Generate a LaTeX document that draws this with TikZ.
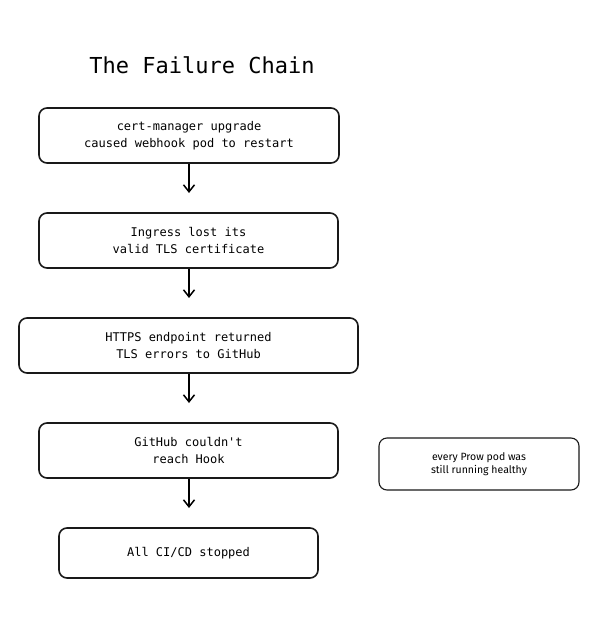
\documentclass[tikz,border=0pt]{standalone}
\usepackage{fontspec}
\setmonofont{DejaVu Sans Mono}
\newfontfamily\notefont{Fira Sans}
\usetikzlibrary{arrows.meta}
\begin{document}
\begin{tikzpicture}[x=1pt,y=-1pt,
  stepbox/.style={draw=black!90, line width=1.6pt, rounded corners=8pt, fill=white, align=center, font=\ttfamily\fontsize{12}{17}\selectfont, inner sep=0pt},
  notebox/.style={draw=black!90, line width=1.1pt, rounded corners=8pt, fill=white, align=center, font=\notefont\fontsize{10.5}{13}\selectfont, inner sep=0pt},
  flow/.style={line width=1.7pt, -{Straight Barb[length=7pt,width=11pt,line width=1.5pt]}}]
\useasboundingbox (0,0) rectangle (595,634);
\node[font=\ttfamily\fontsize{22}{24}\selectfont] (title) at (202,65) {The Failure Chain};
\node[stepbox, minimum width=300pt, minimum height=55pt] (a) at (189,135.5) {cert-manager upgrade\\caused webhook pod to restart};
\node[stepbox, minimum width=299pt, minimum height=55pt] (b) at (188.5,240.5) {Ingress lost its\\valid TLS certificate};
\node[stepbox, minimum width=339pt, minimum height=55pt] (c) at (188.5,345.5) {HTTPS endpoint returned\\TLS errors to GitHub};
\node[stepbox, minimum width=299pt, minimum height=55pt] (d) at (188.5,450.5) {GitHub couldn't\\reach Hook};
\node[stepbox, minimum width=259pt, minimum height=50pt] (e) at (188.5,553) {All CI/CD stopped};
\node[notebox, minimum width=200pt, minimum height=52pt] (n) at (479,464) {every Prow pod was\\still running healthy};
\coordinate (a2) at (189,193);
\coordinate (b2) at (189,298);
\coordinate (c2) at (189,403);
\coordinate (d2) at (189,508);
\draw[flow] (a.south) -- (a2);
\draw[flow] (b.south -| a2) -- (b2);
\draw[flow] (c.south -| a2) -- (c2);
\draw[flow] (d.south -| a2) -- (d2);
\end{tikzpicture}
\end{document}
